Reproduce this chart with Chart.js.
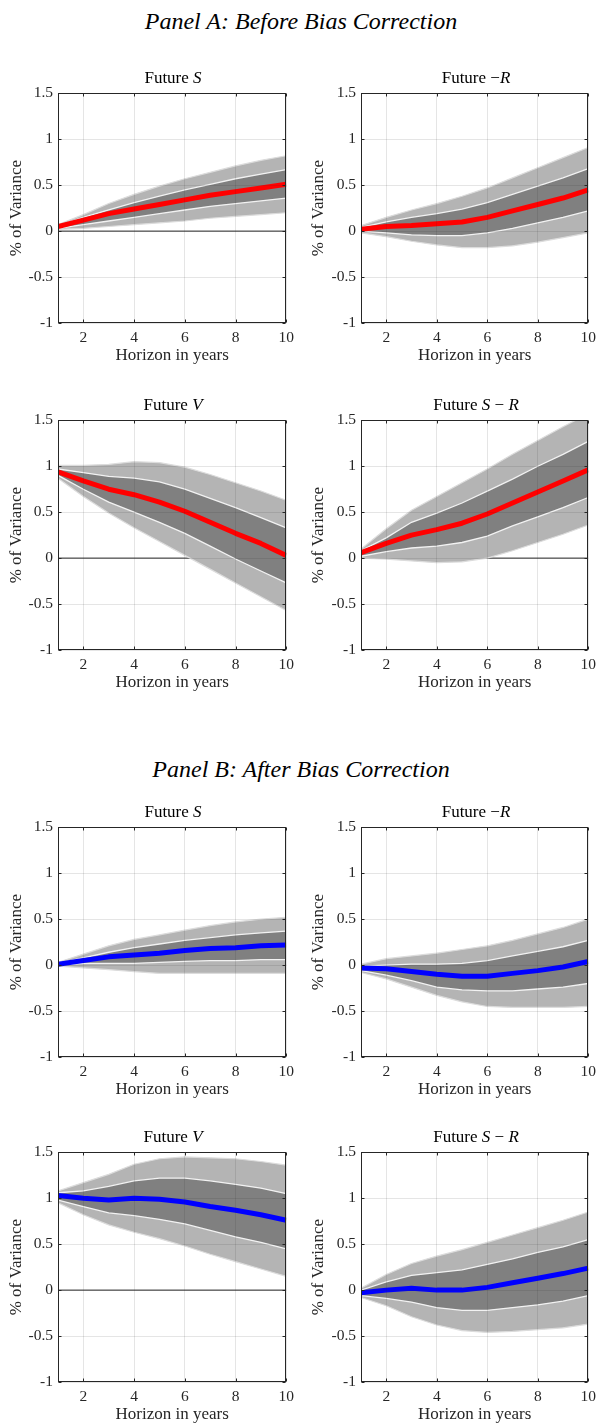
<!DOCTYPE html>
<html>
<head>
<meta charset="utf-8">
<title>Variance decomposition</title>
<script src="https://cdn.jsdelivr.net/npm/chart.js@4.4.1/dist/chart.umd.min.js"></script>
<style>
  html, body { margin: 0; padding: 0; background: #fff; overflow: hidden; }
  body { position: relative; width: 602px; height: 1424px; }
  canvas { position: absolute; }
  .panelHead {
    position: absolute; left: 0; width: 602px; text-align: center;
    font: italic 24px "Liberation Serif", serif; line-height: 30px; color: #000;
  }
  .plotTitle {
    position: absolute; text-align: center;
    font: 17px "Liberation Serif", serif; line-height: 20px; color: #000;
  }
</style>
</head>
<body>
<div class="panelHead" style="top:6px">Panel A: Before Bias Correction</div>
<div class="panelHead" style="top:754px">Panel B: After Bias Correction</div>

<script>
// horizons and axis ticks
var horizons = [1, 2, 3, 4, 5, 6, 7, 8, 9, 10];
var xTickValues = [2, 4, 6, 8, 10];
var yTickValues = [-1, -0.5, 0, 0.5, 1, 1.5];

// Panel A, Future S
var aS_mean    = [0.05, 0.12, 0.19, 0.24, 0.29, 0.34, 0.39, 0.43, 0.47, 0.51];
var aS_innerHi = [0.06, 0.15, 0.23, 0.31, 0.38, 0.45, 0.51, 0.57, 0.62, 0.67];
var aS_innerLo = [0.03, 0.07, 0.11, 0.15, 0.19, 0.23, 0.27, 0.30, 0.33, 0.36];
var aS_outerHi = [0.07, 0.18, 0.30, 0.40, 0.49, 0.57, 0.64, 0.71, 0.77, 0.82];
var aS_outerLo = [0.02, 0.03, 0.05, 0.07, 0.09, 0.11, 0.14, 0.16, 0.18, 0.20];

// Panel A, Future -R
var aR_mean    = [0.02, 0.05, 0.06, 0.08, 0.10, 0.15, 0.22, 0.29, 0.36, 0.45];
var aR_innerHi = [0.04, 0.10, 0.15, 0.19, 0.24, 0.31, 0.40, 0.49, 0.58, 0.68];
var aR_innerLo = [0.00, -0.02, -0.04, -0.05, -0.05, -0.02, 0.03, 0.09, 0.15, 0.22];
var aR_outerHi = [0.06, 0.15, 0.23, 0.30, 0.38, 0.47, 0.58, 0.69, 0.80, 0.91];
var aR_outerLo = [-0.02, -0.06, -0.11, -0.15, -0.18, -0.18, -0.16, -0.12, -0.07, -0.02];

// Panel A, Future V
var aV_mean    = [0.94, 0.84, 0.75, 0.69, 0.61, 0.51, 0.39, 0.27, 0.16, 0.03];
var aV_innerHi = [0.97, 0.93, 0.89, 0.87, 0.83, 0.75, 0.65, 0.55, 0.44, 0.33];
var aV_innerLo = [0.90, 0.75, 0.61, 0.50, 0.39, 0.27, 0.13, -0.01, -0.14, -0.27];
var aV_outerHi = [1.01, 1.01, 1.02, 1.05, 1.04, 0.99, 0.91, 0.82, 0.73, 0.63];
var aV_outerLo = [0.87, 0.67, 0.49, 0.33, 0.18, 0.03, -0.12, -0.27, -0.42, -0.57];

// Panel A, Future S - R
var aSR_mean    = [0.06, 0.16, 0.25, 0.31, 0.38, 0.48, 0.60, 0.72, 0.84, 0.96];
var aSR_innerHi = [0.08, 0.22, 0.39, 0.49, 0.60, 0.73, 0.86, 1.00, 1.13, 1.27];
var aSR_innerLo = [0.02, 0.07, 0.11, 0.13, 0.17, 0.24, 0.35, 0.45, 0.55, 0.66];
var aSR_outerHi = [0.10, 0.32, 0.52, 0.67, 0.82, 0.97, 1.13, 1.28, 1.43, 1.57];
var aSR_outerLo = [0.00, -0.01, -0.03, -0.05, -0.04, 0.00, 0.08, 0.17, 0.26, 0.36];

// Panel B, Future S
var bS_mean    = [0.01, 0.05, 0.09, 0.11, 0.13, 0.16, 0.18, 0.19, 0.21, 0.22];
var bS_innerHi = [0.02, 0.08, 0.14, 0.19, 0.23, 0.27, 0.30, 0.33, 0.35, 0.37];
var bS_innerLo = [0.00, 0.02, 0.02, 0.02, 0.03, 0.04, 0.05, 0.05, 0.06, 0.06];
var bS_outerHi = [0.03, 0.12, 0.21, 0.28, 0.33, 0.38, 0.43, 0.47, 0.50, 0.52];
var bS_outerLo = [-0.01, -0.03, -0.05, -0.07, -0.09, -0.09, -0.09, -0.09, -0.09, -0.09];

// Panel B, Future -R
var bR_mean    = [-0.03, -0.04, -0.07, -0.10, -0.12, -0.12, -0.09, -0.06, -0.02, 0.04];
var bR_innerHi = [-0.01, 0.00, 0.01, 0.01, 0.02, 0.05, 0.10, 0.15, 0.20, 0.27];
var bR_innerLo = [-0.06, -0.11, -0.17, -0.24, -0.27, -0.28, -0.28, -0.26, -0.24, -0.20];
var bR_outerHi = [0.01, 0.07, 0.10, 0.13, 0.17, 0.21, 0.27, 0.34, 0.41, 0.50];
var bR_outerLo = [-0.08, -0.15, -0.24, -0.33, -0.40, -0.45, -0.46, -0.46, -0.46, -0.45];

// Panel B, Future V
var bV_mean    = [1.03, 1.00, 0.98, 1.00, 0.99, 0.96, 0.91, 0.87, 0.82, 0.76];
var bV_innerHi = [1.06, 1.08, 1.13, 1.19, 1.22, 1.22, 1.19, 1.15, 1.11, 1.05];
var bV_innerLo = [0.98, 0.91, 0.84, 0.81, 0.77, 0.72, 0.65, 0.58, 0.52, 0.45];
var bV_outerHi = [1.08, 1.17, 1.26, 1.37, 1.43, 1.45, 1.44, 1.43, 1.40, 1.36];
var bV_outerLo = [0.95, 0.82, 0.71, 0.63, 0.56, 0.48, 0.39, 0.31, 0.23, 0.15];

// Panel B, Future S - R
var bSR_mean    = [-0.03, 0.00, 0.02, 0.00, 0.00, 0.03, 0.08, 0.13, 0.18, 0.24];
var bSR_innerHi = [0.00, 0.09, 0.16, 0.19, 0.22, 0.28, 0.34, 0.41, 0.47, 0.55];
var bSR_innerLo = [-0.06, -0.09, -0.13, -0.19, -0.22, -0.22, -0.19, -0.16, -0.12, -0.06];
var bSR_outerHi = [0.02, 0.17, 0.29, 0.37, 0.44, 0.52, 0.60, 0.68, 0.76, 0.85];
var bSR_outerLo = [-0.08, -0.17, -0.29, -0.38, -0.44, -0.46, -0.45, -0.43, -0.41, -0.37];

var RED = '#ff0000', BLUE = '#0000ff';
var INK = '#262626';
var GRID = 'rgba(38,38,38,0.12)';
var SERIF = '"Liberation Serif", "Times New Roman", serif';

// col 0 = left, col 1 = right; top = top edge of the plot box
var panels = [
  { title: 'Future <i>S</i>', col: 0, top: 89, color: RED,
    mean: aS_mean, inHi: aS_innerHi, inLo: aS_innerLo, outHi: aS_outerHi, outLo: aS_outerLo },
  { title: 'Future &minus;<i>R</i>', col: 1, top: 89, color: RED,
    mean: aR_mean, inHi: aR_innerHi, inLo: aR_innerLo, outHi: aR_outerHi, outLo: aR_outerLo },
  { title: 'Future <i>V</i>', col: 0, top: 416, color: RED,
    mean: aV_mean, inHi: aV_innerHi, inLo: aV_innerLo, outHi: aV_outerHi, outLo: aV_outerLo },
  { title: 'Future <i>S</i> &minus; <i>R</i>', col: 1, top: 416, color: RED,
    mean: aSR_mean, inHi: aSR_innerHi, inLo: aSR_innerLo, outHi: aSR_outerHi, outLo: aSR_outerLo },
  { title: 'Future <i>S</i>', col: 0, top: 823, color: BLUE,
    mean: bS_mean, inHi: bS_innerHi, inLo: bS_innerLo, outHi: bS_outerHi, outLo: bS_outerLo },
  { title: 'Future &minus;<i>R</i>', col: 1, top: 823, color: BLUE,
    mean: bR_mean, inHi: bR_innerHi, inLo: bR_innerLo, outHi: bR_outerHi, outLo: bR_outerLo },
  { title: 'Future <i>V</i>', col: 0, top: 1148, color: BLUE,
    mean: bV_mean, inHi: bV_innerHi, inLo: bV_innerLo, outHi: bV_outerHi, outLo: bV_outerLo },
  { title: 'Future <i>S</i> &minus; <i>R</i>', col: 1, top: 1148, color: BLUE,
    mean: bSR_mean, inHi: bSR_innerHi, inLo: bSR_innerLo, outHi: bSR_outerHi, outLo: bSR_outerLo }
];

// canvas geometry for each column
var cols = [
  { left: 0,   width: 300, yAxisW: 58, padRight: 12, yTitlePad: 6.5 },
  { left: 300, width: 302, yAxisW: 61, padRight: 11, yTitlePad: 8.3 }
];
var PLOT_H = 234, PAD_TOP = 10, X_AXIS_H = 46;

function pts(arr) {
  return horizons.map(function (h, i) { return { x: h, y: arr[i] }; });
}

// box around the plot with small inward ticks on all four sides
var axesBox = {
  id: 'axesBox',
  afterDraw: function (chart) {
    var ctx = chart.ctx, a = chart.chartArea, xs = chart.scales.x, ys = chart.scales.y;
    var L = Math.round(a.left) + 0.5, R = Math.round(a.right) - 0.5;
    var T = Math.round(a.top) + 0.5, B = Math.round(a.bottom) - 0.5;
    ctx.save();
    ctx.strokeStyle = INK;
    ctx.lineWidth = 1;
    ctx.beginPath();
    xTickValues.forEach(function (v) {
      var px = Math.round(xs.getPixelForValue(v)) + 0.5;
      ctx.moveTo(px, B); ctx.lineTo(px, B - 3);
      ctx.moveTo(px, T); ctx.lineTo(px, T + 3);
    });
    yTickValues.forEach(function (v) {
      var py = Math.round(ys.getPixelForValue(v)) + 0.5;
      ctx.moveTo(L, py); ctx.lineTo(L + 3, py);
      ctx.moveTo(R, py); ctx.lineTo(R - 3, py);
    });
    ctx.stroke();
    ctx.strokeRect(L, T, R - L, B - T);
    ctx.restore();
  }
};

panels.forEach(function (p, k) {
  var c = cols[p.col];
  var cv = document.createElement('canvas');
  cv.id = 'plot' + k;
  cv.width = c.width;
  cv.height = PAD_TOP + PLOT_H + X_AXIS_H;
  cv.style.left = c.left + 'px';
  cv.style.top = (p.top - PAD_TOP) + 'px';
  document.body.appendChild(cv);

  var ttl = document.createElement('div');
  ttl.className = 'plotTitle';
  ttl.innerHTML = p.title;
  ttl.style.left = (c.left + c.yAxisW) + 'px';
  ttl.style.width = (c.width - c.yAxisW - c.padRight) + 'px';
  ttl.style.top = (p.top - 21) + 'px';
  document.body.appendChild(ttl);

  var zero = [{ x: horizons[0], y: 0 }, { x: horizons[horizons.length - 1], y: 0 }];

  new Chart(cv, {
    type: 'line',
    data: {
      datasets: [
        { data: pts(p.outHi), fill: '+1', backgroundColor: '#b4b4b4',
          borderColor: '#dcdcdc', borderWidth: 1.2, order: 5 },
        { data: pts(p.outLo), fill: false,
          borderColor: '#dcdcdc', borderWidth: 1.2, order: 4 },
        { data: pts(p.inHi), fill: '+1', backgroundColor: '#808080',
          borderColor: '#f2f2f2', borderWidth: 1.3, order: 3 },
        { data: pts(p.inLo), fill: false,
          borderColor: '#f2f2f2', borderWidth: 1.3, order: 2 },
        { data: pts(p.mean), fill: false,
          borderColor: p.color, borderWidth: 5, borderJoinStyle: 'round', order: 1 },
        { data: zero, fill: false, borderColor: INK, borderWidth: 1, order: 6 }
      ]
    },
    options: {
      responsive: false,
      animation: false,
      devicePixelRatio: 1,
      layout: { padding: { top: PAD_TOP, right: c.padRight, bottom: 0, left: 0 } },
      elements: { point: { radius: 0, hoverRadius: 0 }, line: { tension: 0 } },
      datasets: { line: { clip: 0 } },
      plugins: {
        legend: { display: false },
        tooltip: { enabled: false },
        filler: { propagate: false }
      },
      scales: {
        x: {
          type: 'linear', min: 1, max: 10,
          afterBuildTicks: function (s) { s.ticks = xTickValues.map(function (v) { return { value: v }; }); },
          afterFit: function (s) { s.height = X_AXIS_H; },
          grid: { color: GRID, lineWidth: 1, drawTicks: false, z: 1 },
          border: { display: false },
          ticks: { color: INK, padding: 6, maxRotation: 0, font: { family: SERIF, size: 15.5 } },
          title: { display: true, text: 'Horizon in years', color: INK,
                   padding: { top: 0, bottom: 3 }, font: { family: SERIF, size: 17 } }
        },
        y: {
          type: 'linear', min: -1, max: 1.5,
          afterBuildTicks: function (s) { s.ticks = yTickValues.map(function (v) { return { value: v }; }); },
          afterFit: function (s) { s.width = c.yAxisW; },
          grid: { color: GRID, lineWidth: 1, drawTicks: false, z: 1 },
          border: { display: false },
          ticks: { color: INK, padding: 5, font: { family: SERIF, size: 15.5 },
                   callback: function (v) { return String(v); } },
          title: { display: true, text: '% of Variance', color: INK,
                   padding: { top: c.yTitlePad, bottom: 0 }, font: { family: SERIF, size: 17 } }
        }
      }
    },
    plugins: [axesBox]
  });
});
</script>
</body>
</html>
